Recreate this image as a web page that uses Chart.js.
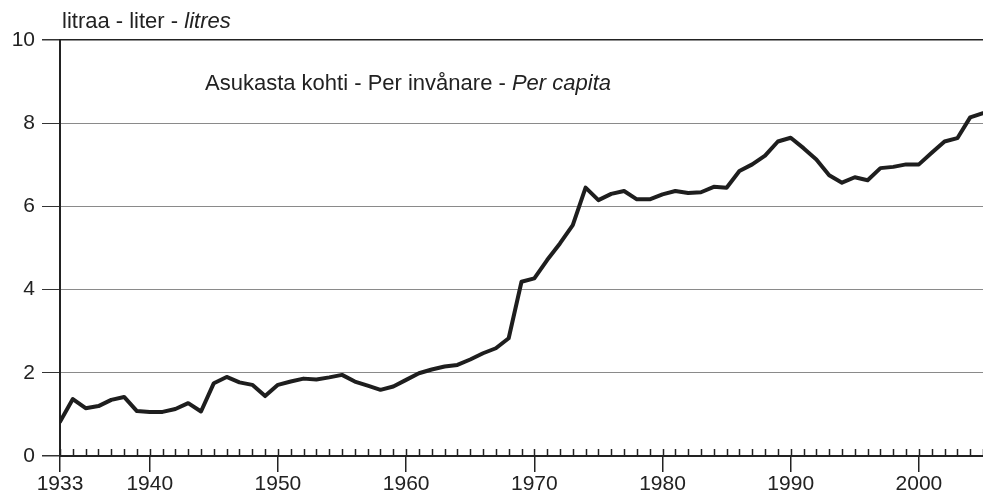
<!DOCTYPE html>
<html>
<head>
<meta charset="utf-8">
<script src="https://cdn.jsdelivr.net/npm/chart.js@4.4.1/dist/chart.umd.min.js"></script>
<style>
  body { margin: 0; background: #fff; }
  #wrap { position: relative; width: 983px; height: 495px; font-family: "Liberation Sans", Arial, sans-serif; color: #222; }
  .lbl { position: absolute; font-size: 22px; line-height: 22px; white-space: nowrap; }
</style>
</head>
<body>
<div id="wrap">
  <canvas id="chart1" width="983" height="495"></canvas>
  <div class="lbl" style="left:62px; top:10px;">litraa - liter - <i>litres</i></div>
  <div class="lbl" style="left:205px; top:72px;">Asukasta kohti - Per invånare - <i>Per capita</i></div>
</div>
<script>
// years on the x axis
const years = [
  1933, 1934, 1935, 1936, 1937, 1938, 1939, 1940, 1941, 1942, 1943, 1944, 1945, 1946, 1947, 1948, 1949,
  1950, 1951, 1952, 1953, 1954, 1955, 1956, 1957, 1958, 1959,
  1960, 1961, 1962, 1963, 1964, 1965, 1966, 1967, 1968, 1969,
  1970, 1971, 1972, 1973, 1974, 1975, 1976, 1977, 1978, 1979,
  1980, 1981, 1982, 1983, 1984, 1985, 1986, 1987, 1988, 1989,
  1990, 1991, 1992, 1993, 1994, 1995, 1996, 1997, 1998, 1999,
  2000, 2001, 2002, 2003, 2004, 2005
];
// litres per capita
const litres = [
  0.82, 1.37, 1.15, 1.20, 1.35, 1.42, 1.08, 1.06, 1.06, 1.13, 1.27, 1.07, 1.75, 1.90, 1.77, 1.71, 1.44,
  1.71, 1.79, 1.86, 1.84, 1.89, 1.95, 1.79, 1.69, 1.59, 1.67,
  1.83, 1.99, 2.08, 2.15, 2.19, 2.32, 2.47, 2.59, 2.83, 4.19,
  4.27, 4.71, 5.11, 5.55, 6.45, 6.15, 6.30, 6.37, 6.17, 6.17,
  6.29, 6.37, 6.32, 6.34, 6.47, 6.45, 6.85, 7.01, 7.22, 7.56,
  7.65, 7.40, 7.13, 6.75, 6.57, 6.70, 6.63, 6.92, 6.95, 7.01,
  7.01, 7.29, 7.56, 7.64, 8.14, 8.24
];
const labelledYears = [1933, 1940, 1950, 1960, 1970, 1980, 1990, 2000];
const yTicks = [0, 2, 4, 6, 8, 10];

const points = years.map((y, i) => ({ x: y, y: litres[i] }));

// small year ticks pointing up into the plot
const yearTicks = {
  id: 'yearTicks',
  afterDraw(chart) {
    const ctx = chart.ctx;
    const xs = chart.scales.x;
    const bottom = chart.chartArea.bottom;
    ctx.save();
    ctx.strokeStyle = '#222';
    ctx.lineWidth = 1.5;
    years.forEach(function(y) {
      const px = Math.round(xs.getPixelForValue(y)) + 0.5;
      ctx.beginPath();
      ctx.moveTo(px, bottom);
      ctx.lineTo(px, bottom - 7);
      ctx.stroke();
    });
    ctx.restore();
  }
};

const ctx = document.getElementById('chart1').getContext('2d');
const myChart = new Chart(ctx, {
  type: 'line',
  data: {
    datasets: [{
      data: points,
      borderColor: '#1e1e1e',
      borderWidth: 4,
      pointRadius: 0,
      tension: 0,
      borderJoinStyle: 'round',
      borderCapStyle: 'round'
    }]
  },
  options: {
    responsive: false,
    animation: false,
    layout: { padding: { top: 40, left: 0, right: 0, bottom: 0 } },
    plugins: { legend: { display: false }, tooltip: { enabled: false } },
    scales: {
      x: {
        type: 'linear',
        min: 1933,
        max: 2005,
        afterBuildTicks: function(scale) {
          scale.ticks = years.map(v => ({ value: v }));
        },
        afterFit: function(scale) { scale.height = 39; },
        ticks: {
          autoSkip: false,
          maxRotation: 0,
          padding: 0,
          color: '#222',
          font: { family: 'Liberation Sans', size: 21 },
          callback: function(value) {
            return labelledYears.includes(value) ? String(value) : '';
          }
        },
        grid: {
          drawOnChartArea: false,
          tickLength: 16,
          lineWidth: 1.5,
          color: function(c) {
            return c.tick && labelledYears.includes(c.tick.value) ? '#222' : 'rgba(0,0,0,0)';
          }
        },
        border: { display: true, color: '#222', width: 2 }
      },
      y: {
        min: 0,
        max: 10,
        afterBuildTicks: function(scale) {
          scale.ticks = yTicks.map(v => ({ value: v }));
        },
        afterFit: function(scale) { scale.width = 60; },
        ticks: {
          padding: 7,
          color: '#222',
          font: { family: 'Liberation Sans', size: 21 }
        },
        grid: {
          tickLength: 18,
          tickColor: '#333',
          color: function(c) {
            const v = c.tick ? c.tick.value : 0;
            return (v === 0 || v === 10) ? '#222' : '#8a8a8a';
          },
          lineWidth: function(c) {
            const v = c.tick ? c.tick.value : 0;
            return (v === 0 || v === 10) ? 1.5 : 1;
          }
        },
        border: { display: true, color: '#222', width: 2 }
      }
    }
  },
  plugins: [yearTicks]
});
</script>
</body>
</html>
